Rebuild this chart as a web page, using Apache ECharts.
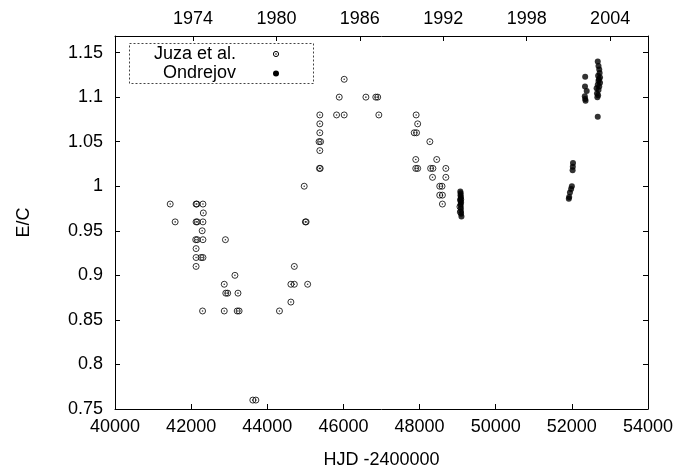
<!DOCTYPE html>
<html>
<head>
<meta charset="utf-8">
<script src="https://cdn.jsdelivr.net/npm/echarts@6/dist/echarts.min.js"></script>
<style>
  html, body { margin: 0; padding: 0; background: #fff; }
  #chart { width: 693px; height: 474px; }
</style>
</head>
<body>
<div id="chart"></div>
<script>
// E/C ratio against heliocentric Julian date (HJD - 2400000)
const juzaPoints = [
  [41450, 0.98], [41580, 0.96],
  [42130, 0.98], [42150, 0.98], [42310, 0.98], [42320, 0.97],
  [42130, 0.96], [42160, 0.96], [42310, 0.96], [42290, 0.95],
  [42120, 0.94], [42160, 0.94], [42310, 0.94], [42130, 0.93],
  [42130, 0.92], [42260, 0.92], [42310, 0.92], [42130, 0.91],
  [42300, 0.86],
  [42900, 0.94], [43150, 0.90], [42870, 0.89], [42910, 0.88], [42960, 0.88],
  [43230, 0.88], [42870, 0.86], [43210, 0.86], [43260, 0.86],
  [43620, 0.76], [43700, 0.76],
  [44320, 0.86], [44620, 0.87], [44620, 0.89], [44710, 0.89], [45060, 0.89],
  [44710, 0.91],
  [44970, 1.00], [45000, 0.96], [45020, 0.96],
  [45380, 1.08], [45380, 1.07], [45380, 1.06], [45360, 1.05], [45400, 1.05],
  [45380, 1.04], [45370, 1.02], [45390, 1.02],
  [45820, 1.08], [45890, 1.10], [46020, 1.12], [46020, 1.08],
  [46590, 1.10], [46850, 1.10], [46900, 1.10], [46930, 1.08],
  [47910, 1.08], [47950, 1.07], [47860, 1.06], [47920, 1.06], [48270, 1.05],
  [47900, 1.03], [48450, 1.03], [47900, 1.02], [47950, 1.02], [48290, 1.02],
  [48350, 1.02], [48690, 1.02], [48340, 1.01], [48690, 1.01],
  [48530, 1.00], [48590, 1.00], [48530, 0.99], [48600, 0.99], [48600, 0.98],
  [49080, 0.985], [49060, 0.977], [49070, 0.971]
];

const ondrejovPoints = [
  [49070, 0.994], [49080, 0.992], [49075, 0.990], [49085, 0.988], [49080, 0.986],
  [49070, 0.984], [49090, 0.982], [49080, 0.980], [49075, 0.978], [49085, 0.975],
  [49080, 0.972], [49090, 0.969], [49100, 0.966],
  [51920, 0.986], [51930, 0.988], [51950, 0.993], [51980, 0.997], [52000, 1.000],
  [52020, 1.018], [52025, 1.022], [52030, 1.026],
  [52350, 1.123], [52345, 1.112], [52390, 1.107], [52340, 1.101], [52350, 1.098],
  [52360, 1.096],
  [52680, 1.140], [52700, 1.135], [52720, 1.131], [52730, 1.127], [52690, 1.124],
  [52740, 1.122], [52710, 1.120], [52700, 1.118], [52740, 1.116], [52680, 1.114],
  [52720, 1.112], [52650, 1.110], [52700, 1.108], [52660, 1.104], [52690, 1.102],
  [52670, 1.100], [52680, 1.078]
];

const yearTicks = [1974, 1980, 1986, 1992, 1998, 2004];

// calendar year (Jan 1) -> HJD - 2400000
const J2000_REDUCED = 51544.5;
const yearToHjd = y => J2000_REDUCED + (y - 2000) * 365.25;
const hjdToYear = h => Math.round((h - J2000_REDUCED) / 365.25 + 2000);
const yearTickValues = yearTicks.map(yearToHjd);

const FONT = '"Liberation Sans", Arial, Helvetica, sans-serif';
const INK = '#000';
const textStyle = { color: INK, fontFamily: FONT, fontSize: 18 };

const X_MIN = 40000, X_MAX = 54000;
const Y_MIN = 0.75, Y_MAX = 1.1686;

const chart = echarts.init(document.getElementById('chart'), null, { renderer: 'canvas' });

const axisLine = { show: true, onZero: false, lineStyle: { color: INK, width: 1 } };
const tickIn = { show: true, inside: true, length: 5, lineStyle: { color: INK, width: 1 } };

chart.setOption({
  animation: false,
  backgroundColor: '#fff',
  grid: { left: 115, right: 45, top: 36, bottom: 62, containLabel: false },
  xAxis: [
    {
      type: 'value', position: 'bottom', min: X_MIN, max: X_MAX, interval: 2000,
      axisLine, axisTick: tickIn, splitLine: { show: false },
      axisLabel: { ...textStyle, margin: 9, formatter: v => String(v) },
      name: 'HJD -2400000', nameLocation: 'middle', nameGap: 42,
      nameTextStyle: { ...textStyle }
    },
    {
      type: 'value', position: 'top', min: X_MIN, max: X_MAX,
      axisLine,
      axisTick: { ...tickIn, customValues: yearTickValues },
      axisLabel: { ...textStyle, margin: 8, customValues: yearTickValues,
                   formatter: v => String(hjdToYear(v)) },
      splitLine: { show: false }
    }
  ],
  yAxis: [
    {
      type: 'value', position: 'left', min: Y_MIN, max: Y_MAX, interval: 0.05,
      axisLine, axisTick: tickIn, splitLine: { show: false },
      axisLabel: { ...textStyle, margin: 12, showMaxLabel: false,
                   formatter: v => String(parseFloat(v.toFixed(2))) },
      name: 'E/C', nameLocation: 'middle', nameGap: 82, nameRotate: 90,
      nameTextStyle: { ...textStyle }
    },
    {
      type: 'value', position: 'right', min: Y_MIN, max: Y_MAX, interval: 0.05,
      axisLine, axisTick: tickIn, axisLabel: { show: false }, splitLine: { show: false }
    }
  ],
  series: [
    {
      name: 'Juza et al.', type: 'scatter', xAxisIndex: 0, yAxisIndex: 0,
      data: juzaPoints, symbol: 'circle', symbolSize: 6,
      itemStyle: { color: 'rgba(0,0,0,0)', borderColor: INK, borderWidth: 1 },
      silent: true, z: 3
    },
    {
      name: 'Juza et al. centre', type: 'scatter', xAxisIndex: 0, yAxisIndex: 0,
      data: juzaPoints, symbol: 'circle', symbolSize: 1.6,
      itemStyle: { color: INK }, silent: true, z: 3
    },
    {
      name: 'Ondrejov', type: 'scatter', xAxisIndex: 0, yAxisIndex: 0,
      data: ondrejovPoints, symbol: 'circle', symbolSize: 6,
      itemStyle: { color: INK }, silent: true, z: 4
    }
  ],
  // key box: label text followed by its marker, inside a dashed frame
  graphic: [
    { type: 'rect', silent: true, z: 10,
      shape: { x: 129.5, y: 43.5, width: 184, height: 40 },
      style: { fill: '#fff', stroke: '#444', lineWidth: 1, lineDash: [2, 2] } },
    { type: 'text', silent: true, z: 11, x: 236, y: 54,
      style: { text: 'Juza et al.', fill: INK, font: '18px ' + FONT,
               align: 'right', verticalAlign: 'middle' } },
    { type: 'text', silent: true, z: 11, x: 236, y: 73,
      style: { text: 'Ondrejov', fill: INK, font: '18px ' + FONT,
               align: 'right', verticalAlign: 'middle' } },
    { type: 'circle', silent: true, z: 11, shape: { cx: 276, cy: 54, r: 2.6 },
      style: { fill: 'none', stroke: INK, lineWidth: 1 } },
    { type: 'circle', silent: true, z: 11, shape: { cx: 276, cy: 54, r: 0.8 },
      style: { fill: INK } },
    { type: 'circle', silent: true, z: 11, shape: { cx: 276, cy: 73.5, r: 3 },
      style: { fill: INK } }
  ]
});
</script>
</body>
</html>
